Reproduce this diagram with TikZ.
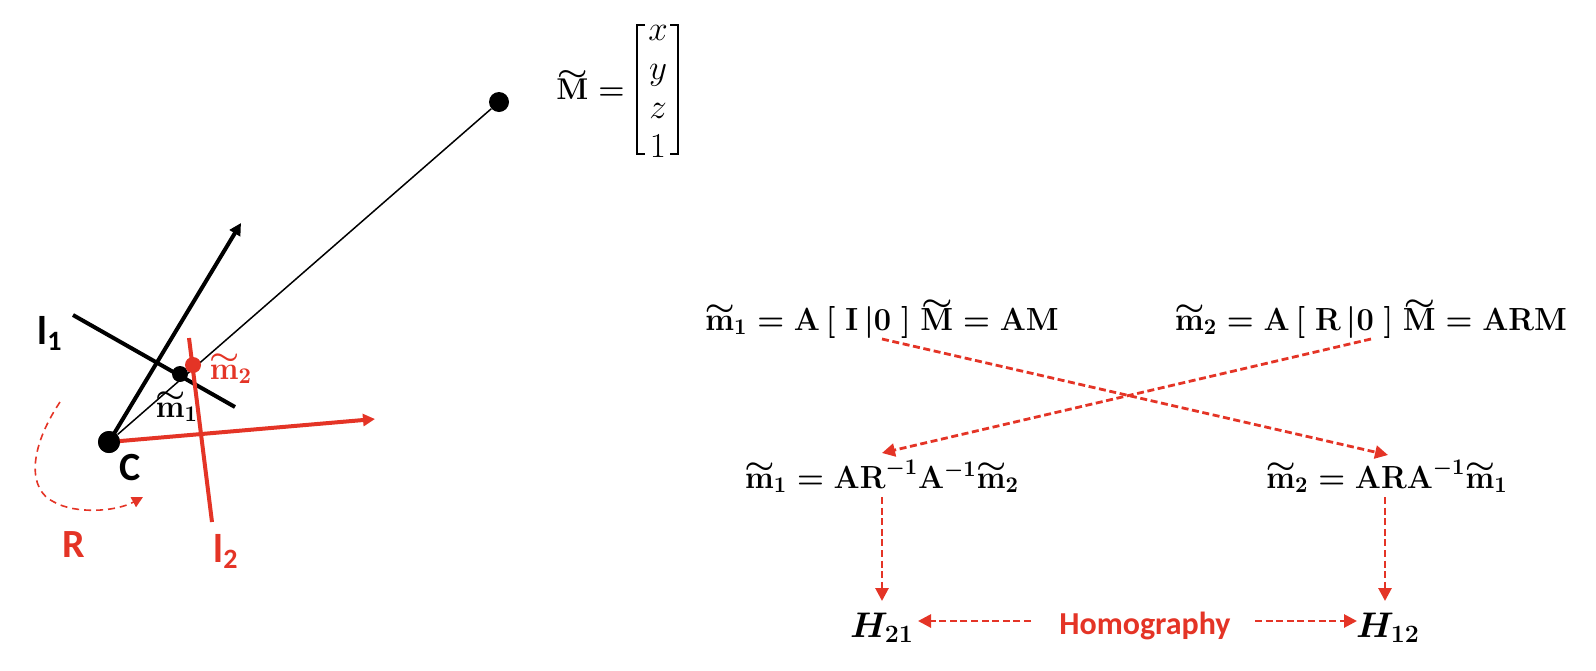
\RequirePackage{fix-cm}
\documentclass[tikz,border=0pt]{standalone}
\usepackage{amsmath}
\usepackage{graphicx}
\usepackage{fontspec}
\setmainfont{Carlito}
\usetikzlibrary{arrows.meta}
\definecolor{hred}{RGB}{228,52,38}
\newcommand{\tM}{\mbox{\ooalign{$\mathbf{M}$\cr\hidewidth\raisebox{0.62em}{\scalebox{1.15}[0.85]{$\sim$}}\hidewidth\cr}}}
\newcommand{\tm}{\mbox{\ooalign{$\mathbf{m}$\cr\hidewidth\raisebox{0.44em}{\scalebox{1.1}[0.85]{$\sim$}}\hidewidth\cr}}}
\newcommand{\sq}[1]{\scalebox{0.96}[1]{#1}}
\tikzset{
  x=0.5pt,y=-0.5pt,
  eqn/.style={inner sep=0pt,anchor=base,font=\fontsize{16}{19}\selectfont\boldmath},
  lab/.style={inner sep=0pt,font=\fontsize{20}{24}\selectfont\bfseries},
  dot/.style={circle,fill=black,inner sep=0pt,minimum size=#1},
  reddash/.style={hred,line width=1.4pt,dash pattern=on 3.5pt off 1.8pt,-{Triangle[length=6.5pt,width=6.5pt]}},
  solidarrow/.style={line width=2pt,-{Triangle[length=6pt,width=6pt]}},
  planeline/.style={line width=2pt},
}
\begin{document}
\begin{tikzpicture}
\useasboundingbox (0,0) rectangle (1596,670);
% left scene
\node[dot=20*0.5pt] (M) at (499,102) {};
\node[dot=22*0.5pt] (C) at (109,442) {};
\coordinate (ytip) at (241,223);
\coordinate (xtip) at (375,419);
\coordinate (la) at (73,315); \coordinate (lb) at (235,407);
\coordinate (lc) at (189,338); \coordinate (ld) at (212,522);
\draw[line width=0.75pt] (C) -- (M);
\draw[solidarrow] (C.center) -- (ytip);
\draw[planeline] (la) -- (lb);
\node[dot=16*0.5pt] (m1) at (180,374) {};
\draw[planeline,hred] (lc) -- (ld);
\draw[solidarrow,hred] (C.center) -- (xtip);
\node[dot=16*0.5pt,fill=hred] (m2) at (193,365) {};
\node[dot=22*0.5pt] at (C) {};
\coordinate (ra) at (60,402); \coordinate (rb) at (143,497);
\draw[hred,line width=0.8pt,dash pattern=on 3.5pt off 2.5pt,-{Triangle[length=5.5pt,width=5.5pt]}]
  (ra) .. controls (28,450) and (28,490) .. (54,502) .. controls (75,514) and (115,512) .. (rb);
\node[lab] (l1) at (50,333) {l\textsubscript{1}};
\node[lab,text=hred] (l2) at (226,551) {l\textsubscript{2}};
\node[lab] (cl) at (130,468) {C};
\node[lab,text=hred] (rl) at (74,545) {R};
\node[eqn] (m1l) at (177,417) {\sq{$\tm_1$}};
\node[eqn,text=hred] (m2l) at (231,379) {\sq{$\tm_2$}};
% M
\node[inner sep=0pt,anchor=base west,font=\fontsize{15}{19}\selectfont\boldmath] (Meq) at (556,99) {\mbox{$\tM$}\hspace{5pt}$=$};
\node[inner sep=0pt,align=center,font=\fontsize{17.5}{19.5}\selectfont] (vec) at (658,91) {$x$\\$y$\\$z$\\$1$};
\coordinate (bl1) at (645,25); \coordinate (bl2) at (637,25); \coordinate (bl3) at (637,154); \coordinate (bl4) at (645,154);
\coordinate (br1) at (670,25); \coordinate (br2) at (678,25); \coordinate (br3) at (678,154); \coordinate (br4) at (670,154);
\draw[line width=1.2pt] (bl1) -- (bl2) -- (bl3) -- (bl4);
\draw[line width=1.2pt] (br1) -- (br2) -- (br3) -- (br4);
% equations
\node[eqn] (e1) at (882,330) {\sq{$\tm_1=\mathbf{A}\,[\;\mathbf{I}\,|\mathbf{0}\;]\;\tM=\mathbf{AM}$}};
\node[eqn] (e2) at (1371,330) {\sq{$\tm_2=\mathbf{A}\,[\;\mathbf{R}\,|\mathbf{0}\;]\;\tM=\mathbf{ARM}$}};
\node[eqn] (e3) at (882,488) {\sq{$\tm_1=\mathbf{AR}^{-1}\mathbf{A}^{-1}\tm_2$}};
\node[eqn] (e4) at (1387,488) {\sq{$\tm_2=\mathbf{ARA}^{-1}\tm_1$}};
\node[inner sep=0pt,font=\fontsize{17.8}{22}\selectfont\boldmath] (h21) at (882,628) {$H_{21}$};
\node[inner sep=0pt,font=\fontsize{17.8}{22}\selectfont\boldmath] (h12) at (1388,628) {$H_{12}$};
\node[lab,text=hred,font=\fontsize{16}{19}\selectfont\bfseries] (hom) at (1145,626) {Homography};
\coordinate (a1) at (882,339); \coordinate (a2) at (1388,455);
\coordinate (b1) at (1371,339); \coordinate (b2) at (882,453);
\coordinate (c1) at (882,497); \coordinate (c2) at (882,601);
\coordinate (d1) at (1385,497); \coordinate (d2) at (1385,601);
\coordinate (f1) at (1031,621); \coordinate (f2) at (918,621);
\coordinate (g1) at (1255,621); \coordinate (g2) at (1357,621);
\draw[reddash] (a1) -- (a2);
\draw[reddash] (b1) -- (b2);
\draw[reddash] (c1) -- (c2);
\draw[reddash] (d1) -- (d2);
\draw[reddash] (f1) -- (f2);
\draw[reddash] (g1) -- (g2);
\end{tikzpicture}
\end{document}
